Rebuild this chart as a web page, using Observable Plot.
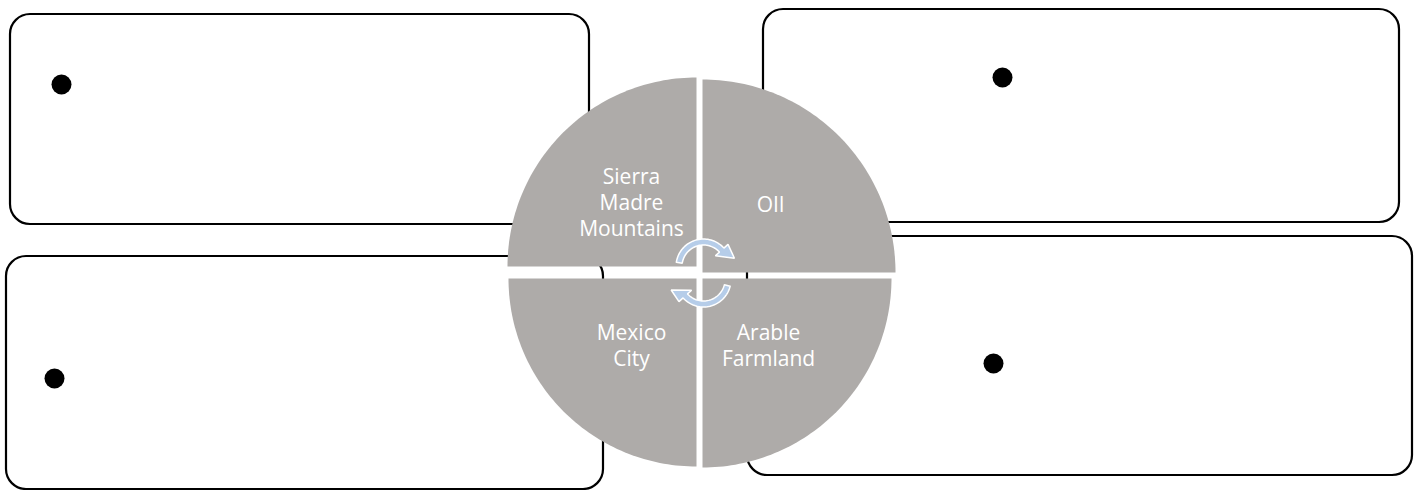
<!DOCTYPE html>
<html>
<head>
<meta charset="utf-8">
<script src="https://cdn.jsdelivr.net/npm/d3@7"></script>
<script src="https://cdn.jsdelivr.net/npm/@observablehq/plot@0.6"></script>
<style>
  html, body { margin: 0; padding: 0; background: #fff; }
  #chart svg { display: block; }
</style>
</head>
<body>
<div id="chart"></div>
<script>
// ---- content ----
const segments = ["TL", "TR", "BL", "BR"];
const segmentLabels = ["Sierra\nMadre\nMountains", "OIl", "Mexico\nCity", "Arable\nFarmland"];
const bulletTexts = ["", "", "", ""];

// ---- layout (diagram geometry) ----
const boxX1 = [10, 763, 6, 747];
const boxX2 = [589, 1399, 603, 1412];
const boxY1 = [14, 9, 256, 236];
const boxY2 = [224, 222, 489, 475];
const bulletX = [61, 1002, 54, 993];
const bulletY = [84, 77, 378, 363];
const quadCX = [696, 702, 696, 702];
const quadCY = [266, 272, 278, 278];
const quadR = [189, 193, 188, 189];
const quadA0 = [180, 270, 90, 0];
const quadA1 = [270, 360, 180, 90];
const labelX = [631, 770, 631, 768];
const labelY = [201, 203, 344, 344];

// arrows: centre, band radii, arc start/end angles, tip angle/radius
const arrowCX = [703, 703];
const arrowCY = [266, 279];
const arrowRin = [21.5, 21.5];
const arrowRout = [27.5, 27.5];
const arrowA0 = [189, 14];
const arrowA1 = [318, 138];
const arrowTipA = [345, 162];
const arrowTipR = [32, 34];

const rad = d => d * Math.PI / 180;
function arcPts(cx, cy, r, a0, a1, n = 72) {
  const pts = [];
  for (let i = 0; i <= n; i++) {
    const a = rad(a0 + (a1 - a0) * i / n);
    pts.push([cx + r * Math.cos(a), cy + r * Math.sin(a)]);
  }
  return pts;
}

const boxes = segments.map((s, i) => ({s, x1: boxX1[i], x2: boxX2[i], y1: boxY1[i], y2: boxY2[i]}));
const bullets = segments.map((s, i) => ({s, x: bulletX[i], y: bulletY[i], t: bulletTexts[i]}));

const quadPts = [];
segments.forEach((s, i) => {
  const c = [quadCX[i], quadCY[i]];
  const pts = [c, ...arcPts(quadCX[i], quadCY[i], quadR[i], quadA0[i], quadA1[i]), c];
  pts.forEach(p => quadPts.push({s, x: p[0], y: p[1]}));
});

const labels = segments.map((s, i) => ({s, x: labelX[i], y: labelY[i], text: segmentLabels[i]}));

const arrowPts = [];
arrowCX.forEach((cx, i) => {
  const cy = arrowCY[i], ri = arrowRin[i], ro = arrowRout[i];
  const a1 = arrowA1[i];
  const outer = arcPts(cx, cy, ro, arrowA0[i], a1, 40);
  const inner = arcPts(cx, cy, ri, arrowA0[i], a1, 40).reverse();
  const pt = (a, r) => [cx + r * Math.cos(rad(a)), cy + r * Math.sin(rad(a))];
  const head = [pt(a1, ro + 5.5), pt(arrowTipA[i], arrowTipR[i]), pt(a1, ri - 5.5)];
  const poly = [...outer, ...head, ...inner, outer[0]];
  poly.forEach(p => arrowPts.push({k: "a" + i, x: p[0], y: p[1]}));
});

const chart = Plot.plot({
  width: 1418,
  height: 490,
  margin: 0,
  x: {domain: [0, 1418], range: [0, 1418], axis: null},
  y: {domain: [0, 490], range: [0, 490], axis: null},
  marks: [
    Plot.rect(boxes, {x1: "x1", x2: "x2", y1: "y1", y2: "y2", rx: 20, ry: 20, fill: "white", stroke: "black", strokeWidth: 2.2}),
    Plot.dot(bullets, {x: "x", y: "y", r: 10, fill: "black", stroke: "none"}),
    Plot.line(quadPts, {x: "x", y: "y", z: "s", fill: "#aeaba9", stroke: "none", curve: "linear"}),
    Plot.text(labels, {x: "x", y: "y", text: "text", fill: "white", fontSize: 21, lineHeight: 1.24, fontFamily: "Open Sans", textAnchor: "middle", lineAnchor: "middle"}),
    Plot.line(arrowPts, {x: "x", y: "y", z: "k", fill: "#b6cde9", stroke: "white", strokeWidth: 1.5, strokeLinejoin: "miter", curve: "linear"})
  ]
});
document.getElementById("chart").appendChild(chart);
</script>
</body>
</html>
